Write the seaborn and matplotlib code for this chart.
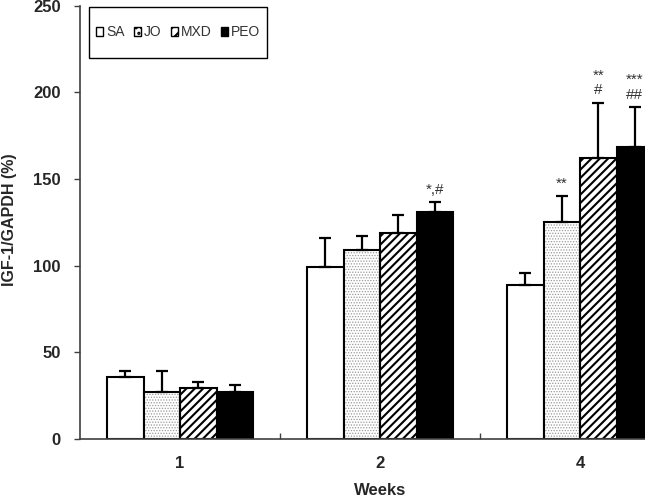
import numpy as np
import pandas as pd
import seaborn as sns
import matplotlib
matplotlib.use("Agg")
import matplotlib.pyplot as plt
import matplotlib.patches as mpatches

# values
weeks = ["1", "2", "4"]
groups = ["SA", "JO", "MXD", "PEO"]
sa = [36, 99, 89]
jo = [27, 109, 125]
mxd = [29.5, 119, 162]
peo = [27, 131, 168.5]
sa_err = [3, 17, 7]
jo_err = [12, 8, 15]
mxd_err = [3.5, 10, 32]
peo_err = [4, 5.5, 23]
# significance marks per (group, week)
marks = {("PEO", "2"): "*,#", ("JO", "4"): "**", ("MXD", "4"): "**\n#", ("PEO", "4"): "***\n##"}

sns.set_style("ticks")
plt.rcParams["font.family"] = ["Liberation Sans", "DejaVu Sans"]
plt.rcParams["hatch.linewidth"] = 1.5

rows = []
for g, vals, errs in zip(groups, [sa, jo, mxd, peo], [sa_err, jo_err, mxd_err, peo_err]):
    for w, v, e in zip(weeks, vals, errs):
        rows.append({"week": w, "group": g, "value": v, "err": e})
df = pd.DataFrame(rows)

fig = plt.figure(figsize=(6.45, 4.99), dpi=100)
ax = fig.add_axes([80 / 645, 60 / 499, 600 / 645, 433.5 / 499])

face = {"SA": "white", "JO": "white", "MXD": "white", "PEO": "black"}
hatch = {"SA": "", "JO": "......", "MXD": "////", "PEO": ""}

sns.barplot(data=df, x="week", y="value", hue="group", order=weeks, hue_order=groups,
            palette=face, edgecolor="black", linewidth=1.5, width=0.73,
            errorbar=None, legend=False, ax=ax)

for g, cont in zip(groups, ax.containers):
    sub = df[df.group == g].set_index("week").loc[weeks]
    xs = []
    for bar in cont.patches:
        bar.set_hatch(hatch[g])
        if g == "JO":
            # light grey stipple
            bar.set_edgecolor("#9a9a9a")
            if hasattr(bar, "set_hatch_linewidth"):
                bar.set_hatch_linewidth(0.6)
            bar.set_linewidth(0)
            x0, w0, h0 = bar.get_x(), bar.get_width(), bar.get_height()
            ax.add_patch(mpatches.Rectangle((x0, 0), w0, h0, fill=False,
                                            edgecolor="black", linewidth=1.5, zorder=bar.get_zorder()))
        else:
            bar.set_edgecolor("black")
        xs.append(bar.get_x() + bar.get_width() / 2)
    xs = np.array(xs)
    ax.errorbar(xs, sub["value"].values, yerr=[np.zeros(len(xs)), sub["err"].values],
                fmt="none", ecolor="black", elinewidth=1.6, capsize=4, capthick=1.6, zorder=1)
    for x, w in zip(xs, weeks):
        if (g, w) in marks:
            top = sub.loc[w, "value"] + sub.loc[w, "err"]
            ax.text(x, top + 3, marks[(g, w)], ha="center", va="bottom",
                    fontsize=11, color="#333333", linespacing=1.1)

ax.set_ylim(0, 250)
ax.set_yticks([0, 50, 100, 150, 200, 250])
ax.set_xlim(-0.5, 2.5)
ax.set_xticks([0.5, 1.5, 2.5])
ax.set_xticklabels([])
ax.set_xticks([0, 1, 2], minor=True)
ax.set_xticklabels(weeks, minor=True)
ax.tick_params(axis="x", which="major", direction="in", length=4, width=1, color="#404040")
ax.tick_params(axis="x", which="minor", length=0, pad=12, labelsize=12)
ax.tick_params(axis="y", direction="out", length=4, width=1, color="#404040", pad=10, labelsize=12)
for lab in ax.get_xticklabels(minor=True) + ax.get_yticklabels():
    lab.set_fontweight("bold")

sns.despine(ax=ax)
for s in ["left", "bottom"]:
    ax.spines[s].set_color("#404040")
    ax.spines[s].set_linewidth(1.2)

ax.set_xlabel("Weeks", fontsize=12, fontweight="bold", labelpad=9)
ax.set_ylabel("IGF-1/GAPDH (%)", fontsize=11.5, fontweight="bold")
ax.yaxis.set_label_coords(-0.105, 0.505)

handles = [mpatches.Patch(facecolor=face[g], edgecolor="black", hatch=hatch[g][:3],
                          linewidth=1.0, label=g) for g in groups]
fig.legend(handles=handles, loc="center", bbox_to_anchor=(178 / 645, 1 - 32.5 / 499),
           ncol=4, frameon=False, fontsize=10, handlelength=0.55, handleheight=0.55,
           handletextpad=0.2, columnspacing=0.65, labelcolor="#333333")
fig.patches.append(mpatches.Rectangle((89 / 645, 1 - 58 / 499), 178 / 645, 51 / 499,
                                      transform=fig.transFigure, fill=False,
                                      edgecolor="black", linewidth=1.0))

fig.savefig("out.png", dpi=100)
